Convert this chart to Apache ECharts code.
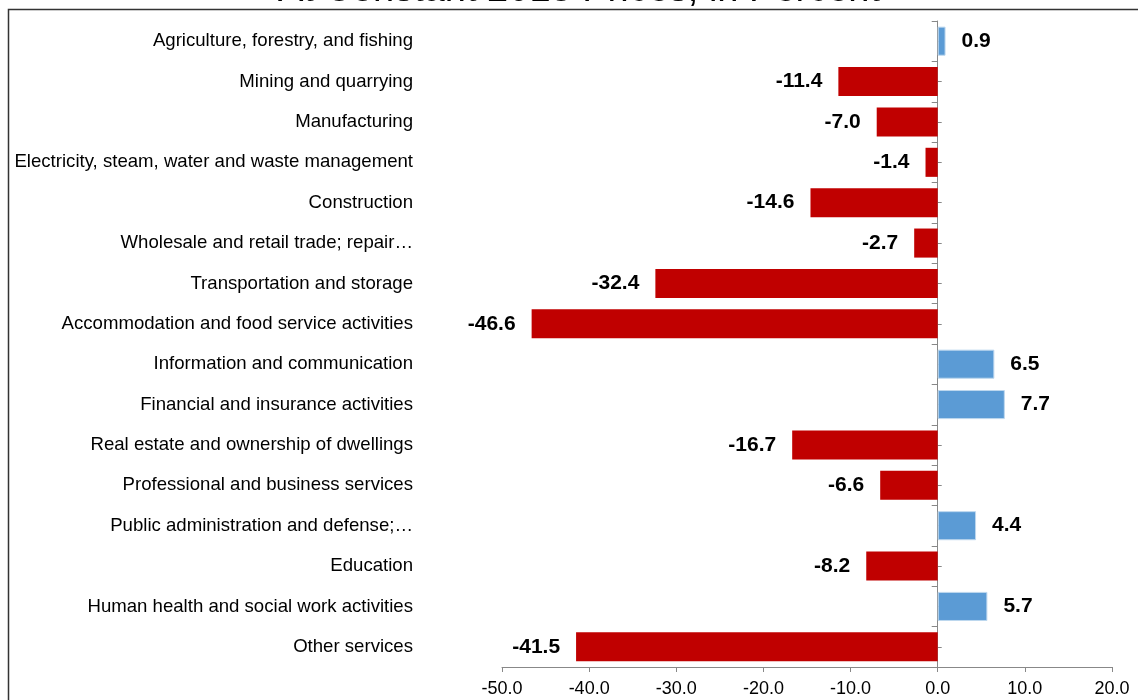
<!DOCTYPE html>
<html>
<head>
<meta charset="utf-8">
<script src="https://cdn.jsdelivr.net/npm/echarts@6/dist/echarts.min.js"></script>
<style>
html,body{margin:0;padding:0;background:#fff;}
#chart{width:1138px;height:700px;}
</style>
</head>
<body>
<div id="chart"></div>
<script>
const titleText = 'At Constant 2018 Prices, in Percent';
const categories = [
  'Agriculture, forestry, and fishing',
  'Mining and quarrying',
  'Manufacturing',
  'Electricity, steam, water and waste management',
  'Construction',
  'Wholesale and retail trade; repair\u2026',
  'Transportation and storage',
  'Accommodation and food service activities',
  'Information and communication',
  'Financial and insurance activities',
  'Real estate and ownership of dwellings',
  'Professional and business services',
  'Public administration and defense;\u2026',
  'Education',
  'Human health and social work activities',
  'Other services'
];
const growth = [0.9, -11.4, -7.0, -1.4, -14.6, -2.7, -32.4, -46.6, 6.5, 7.7, -16.7, -6.6, 4.4, -8.2, 5.7, -41.5];
const xMin = -50, xMax = 20, xStep = 10;

const POS = '#5B9BD5', NEG = '#C00000';
const font = '"Liberation Sans", Arial, sans-serif';

const seriesData = growth.map(v => ({
  value: v,
  itemStyle: v >= 0 ? {color: POS, borderColor: '#BDD7EE', borderWidth: 1} : {color: NEG},
  label: {position: v >= 0 ? 'right' : 'left'}
}));

const chart = echarts.init(document.getElementById('chart'), null, {renderer: 'canvas'});
chart.setOption({
  animation: false,
  backgroundColor: '#fff',
  grid: {left: 502, right: 26, top: 21, bottom: 33, containLabel: false},
  graphic: [
    {type: 'rect', shape: {x: 8.5, y: 9.5, width: 1300, height: 900}, style: {fill: 'none', stroke: '#333', lineWidth: 1.5}, silent: true, z: -1},
    {type: 'text', x: 579, y: 9.5, style: {text: titleText, font: '38px ' + font, fill: '#000', textAlign: 'center', textVerticalAlign: 'bottom'}, silent: true}
  ],
  xAxis: {
    type: 'value', min: xMin, max: xMax, interval: xStep,
    axisLine: {show: true, lineStyle: {color: '#888', width: 1}},
    axisTick: {show: true, length: 5, lineStyle: {color: '#888'}},
    splitLine: {show: false},
    axisLabel: {formatter: v => v.toFixed(1), fontFamily: font, fontSize: 18, color: '#000', margin: 13}
  },
  yAxis: [
    {
      type: 'category', data: categories, inverse: true, position: 'left',
      axisLine: {show: false, onZero: false},
      axisTick: {show: false},
      axisLabel: {fontFamily: font, fontSize: 18.6, color: '#000', margin: 89}
    },
    {
      type: 'category', data: categories, inverse: true, position: 'left',
      axisLine: {show: true, onZero: true, onZeroAxisIndex: 0, lineStyle: {color: '#888', width: 1}},
      axisTick: {show: true, length: 6, inside: false, lineStyle: {color: '#888'}},
      axisLabel: {show: false}
    },
    {
      type: 'category', data: categories, inverse: true, position: 'right',
      axisLine: {show: false, onZero: true, onZeroAxisIndex: 0},
      axisTick: {show: true, length: 4, inside: false, alignWithLabel: true, lineStyle: {color: '#888'}},
      axisLabel: {show: false}
    }
  ],
  series: [{
    type: 'bar',
    yAxisIndex: 0,
    data: seriesData,
    barCategoryGap: '28%',
    label: {
      show: true, distance: 16,
      formatter: p => p.value.toFixed(1),
      fontFamily: font, fontSize: 21, fontWeight: 'bold', color: '#000'
    }
  }]
});
</script>
</body>
</html>
